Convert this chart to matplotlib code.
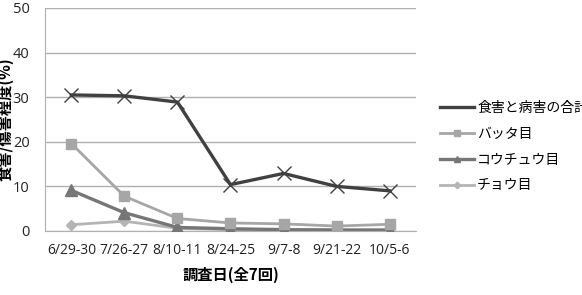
import numpy as np
import matplotlib.pyplot as plt
from matplotlib.lines import Line2D

plt.rcParams['font.family'] = ['Noto Sans CJK JP', 'DejaVu Sans']

dates = ['6/29-30', '7/26-27', '8/10-11', '8/24-25', '9/7-8', '9/21-22', '10/5-6']
total = [30.5, 30.3, 28.9, 10.4, 12.9, 10.0, 9.0]
batta = [19.6, 7.8, 2.8, 1.8, 1.6, 1.1, 1.5]
kouchu = [9.1, 4.1, 0.8, 0.5, 0.3, 0.2, 0.1]
chou = [1.4, 2.2, 0.6, 0.3, 0.3, 0.3, 0.4]
names = ['食害と病害の合計', 'バッタ目', 'コウチュウ目', 'チョウ目']

fig = plt.figure(figsize=(5.82, 2.95), dpi=100)
ax = fig.add_axes([0.077, 0.217, 0.638, 0.756])
x = np.arange(len(dates))

ax.plot(x, total, color='#404040', lw=2.4, marker='x', ms=10, mew=1.0, zorder=5)
l2, = ax.plot(x, batta, color='#a6a6a6', lw=2.0, marker='s', ms=7.5, label=names[1], zorder=4)
l3, = ax.plot(x, kouchu, color='#767676', lw=2.4, marker='^', ms=8, label=names[2], zorder=3)
l4, = ax.plot(x, chou, color='#b4b4b4', lw=2.0, marker='D', ms=5.5, label=names[3], zorder=2)
l1 = Line2D([], [], color='#404040', lw=2.4, label=names[0])

ax.set_xlim(-0.5, 6.5)
ax.set_ylim(0, 50)
ax.set_yticks([0, 10, 20, 30, 40, 50])
ax.set_xticks(x)
ax.set_xticklabels(dates)
ax.yaxis.grid(True, color='#b0b0b0', lw=1)
ax.set_axisbelow(True)
for s in ['top', 'right']:
    ax.spines[s].set_visible(False)
for s in ['left', 'bottom']:
    ax.spines[s].set_color('#b0b0b0')
ax.tick_params(length=0, labelsize=10, colors='#222222', pad=9)
ax.tick_params(axis='y', labelsize=10.5, pad=11)
for t in ax.get_xticklabels() + ax.get_yticklabels():
    t.set_family(['Open Sans', 'DejaVu Sans'])
ax.set_ylabel('食害/傷害程度(%)', fontsize=11, fontweight='bold')
ax.yaxis.set_label_coords(-0.083, 0.5)
ax.set_xlabel('調査日(全7回)', fontsize=11, fontweight='bold', labelpad=6)

fig.legend(handles=[l1, l2, l3, l4], loc='upper left', bbox_to_anchor=(0.735, 0.7),
           frameon=False, fontsize=10, handlelength=2.4, handletextpad=0.25,
           labelspacing=0.85, markerscale=0.6)

fig.savefig('out.png', dpi=100)
